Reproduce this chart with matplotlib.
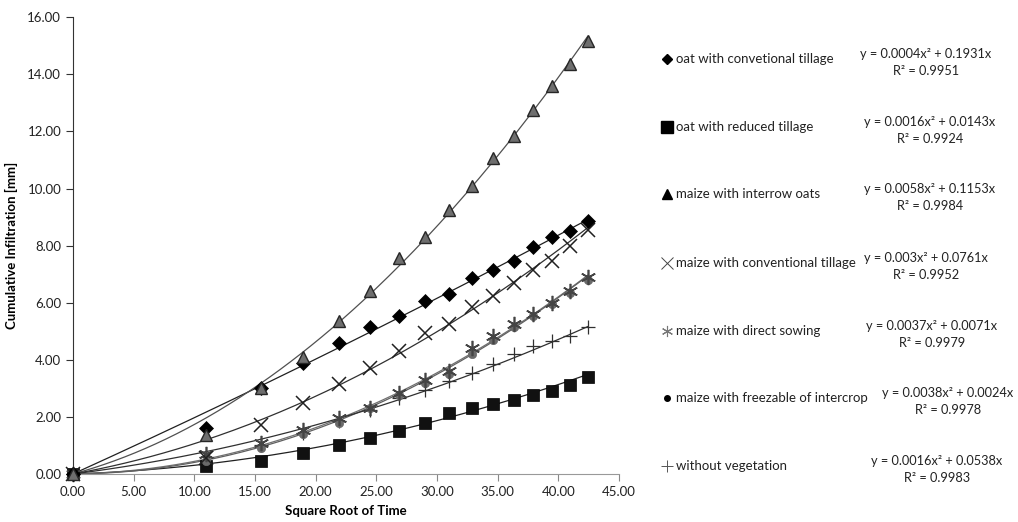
import numpy as np
import matplotlib.pyplot as plt

plt.rcParams['font.family'] = ['Lato', 'DejaVu Sans']

# square root of time (x) shared by all series
sqrt_t = [0.0, 10.95, 15.49, 18.97, 21.91, 24.49, 26.83, 28.98, 30.98,
          32.86, 34.64, 36.33, 37.95, 39.50, 40.99, 42.43]

labels = ["oat with convetional tillage",
          "oat with reduced tillage",
          "maize with interrow oats",
          "maize with conventional tillage",
          "maize with direct sowing",
          "maize with freezable of intercrop",
          "without vegetation"]

oat_conv = [0, 1.60, 3.00, 3.90, 4.60, 5.15, 5.55, 6.05, 6.30, 6.85, 7.15, 7.45, 7.95, 8.30, 8.50, 8.85]
oat_red = [0, 0.28, 0.45, 0.75, 1.00, 1.25, 1.50, 1.80, 2.15, 2.30, 2.45, 2.60, 2.75, 2.90, 3.10, 3.40]
maize_oats = [0, 1.35, 3.00, 4.10, 5.35, 6.40, 7.55, 8.30, 9.25, 10.10, 11.06, 11.85, 12.75, 13.60, 14.35, 15.15]
maize_conv = [0, 0.55, 1.70, 2.50, 3.15, 3.70, 4.30, 4.95, 5.25, 5.85, 6.25, 6.70, 7.15, 7.45, 8.00, 8.55]
maize_direct = [0, 0.70, 1.10, 1.55, 1.95, 2.30, 2.85, 3.30, 3.60, 4.40, 4.85, 5.25, 5.60, 6.00, 6.40, 6.90]
maize_freeze = [0, 0.45, 0.90, 1.40, 1.80, 2.30, 2.75, 3.20, 3.50, 4.20, 4.70, 5.15, 5.55, 5.95, 6.35, 6.80]
no_veg = [0, 0.60, 1.00, 1.45, 1.85, 2.25, 2.65, 2.95, 3.25, 3.55, 3.85, 4.20, 4.50, 4.65, 4.85, 5.15]

# trendline coefficients y = a x^2 + b x, and R^2
coef_a = [0.0004, 0.0016, 0.0058, 0.003, 0.0037, 0.0038, 0.0016]
coef_b = [0.1931, 0.0143, 0.1153, 0.0761, 0.0071, 0.0024, 0.0538]
r2 = [0.9951, 0.9924, 0.9984, 0.9952, 0.9979, 0.9978, 0.9983]
eq_text = ["y = 0.0004x² + 0.1931x", "y = 0.0016x² + 0.0143x", "y = 0.0058x² + 0.1153x",
           "y = 0.003x² + 0.0761x", "y = 0.0037x² + 0.0071x", "y = 0.0038x² + 0.0024x",
           "y = 0.0016x² + 0.0538x"]

series = [oat_conv, oat_red, maize_oats, maize_conv, maize_direct, maize_freeze, no_veg]
styles = [
    dict(marker='D', ms=7, mfc='black', mec='black', mew=0.5),
    dict(marker='s', ms=9, mfc='#111111', mec='black', mew=0.5),
    dict(marker='^', ms=8.5, mfc='#6e6e6e', mec='#262626', mew=1.0),
    dict(marker='x', ms=10, mfc='none', mec='#202020', mew=1.1),
    dict(marker=(6, 2, 0), ms=11, mfc='none', mec='#444444', mew=1.2),
    dict(marker='o', ms=6, mfc='#6a6a6a', mec='#6a6a6a', mew=0.5),
    dict(marker='+', ms=10, mfc='none', mec='#303030', mew=0.9),
]
line_cols = ['#202020', '#202020', '#505050', '#303030', '#707070', '#606060', '#303030']

fig = plt.figure(figsize=(10.18, 5.22), dpi=100)
ax = fig.add_axes([0.0717, 0.092, 0.5363, 0.875])

xs = np.linspace(0, max(sqrt_t), 200)
for a, b, c in zip(coef_a, coef_b, line_cols):
    ax.plot(xs, a * xs**2 + b * xs, color=c, lw=0.9, zorder=2)

order = [1, 6, 5, 4, 3, 0, 2]
for i in order:
    ax.plot(sqrt_t, series[i], ls='none', clip_on=False, zorder=3, **styles[i])

ax.set_xlim(0, 45)
ax.set_ylim(0, 16)
ax.set_xticks(np.arange(0, 46, 5))
ax.set_yticks(np.arange(0, 17, 2))
ax.set_xticklabels([f"{v:.2f}" for v in np.arange(0, 46, 5)])
ax.set_yticklabels([f"{v:.2f}" for v in np.arange(0, 17, 2)])
ax.tick_params(labelsize=9.5, length=5, width=0.8, colors='#333333', labelcolor='#222222')
ax.tick_params(axis='x', colors='#888888', labelcolor='#222222')
for s in ['top', 'right']:
    ax.spines[s].set_visible(False)
ax.spines['left'].set_color('#333333')
ax.spines['bottom'].set_color('#999999')
ax.set_xlabel("Square Root of Time", fontsize=9.5, fontweight='bold', labelpad=5)
ax.set_ylabel("Cumulative Infiltration [mm]", fontsize=9.5, fontweight='bold', labelpad=7)

# legend with equations on the right
lg = fig.add_axes([0, 0, 1, 1])
lg.set_xlim(0, 1018)
lg.set_ylim(522, 0)
lg.axis('off')
leg_marks = [
    dict(marker='D', ms=5, mfc='black', mec='black'),
    dict(marker='s', ms=8, mfc='black', mec='black'),
    dict(marker='^', ms=7, mfc='black', mec='black'),
    dict(marker='x', ms=8, mec='#444444', mew=0.7),
    dict(marker=(6, 2, 0), ms=8, mec='#777777', mew=0.8),
    dict(marker='o', ms=4, mfc='black', mec='black'),
    dict(marker='+', ms=9, mec='#555555', mew=0.7),
]
row_y = [59, 127, 194, 263, 331, 398, 466]
eq_x = [926, 930, 930, 926, 932, 948, 937]
for i in range(7):
    y = row_y[i]
    lg.plot([667], [y], ls='none', **leg_marks[i])
    lg.text(676, y, labels[i], fontsize=9.5, va='center', ha='left', color='#222222')
    lg.text(eq_x[i], y - 5, eq_text[i], fontsize=9.2, va='center', ha='center', color='#222222')
    lg.text(eq_x[i], y + 12, f"R² = {r2[i]:.4f}", fontsize=9.2, va='center', ha='center', color='#222222')

fig.savefig("out.png", dpi=100)
